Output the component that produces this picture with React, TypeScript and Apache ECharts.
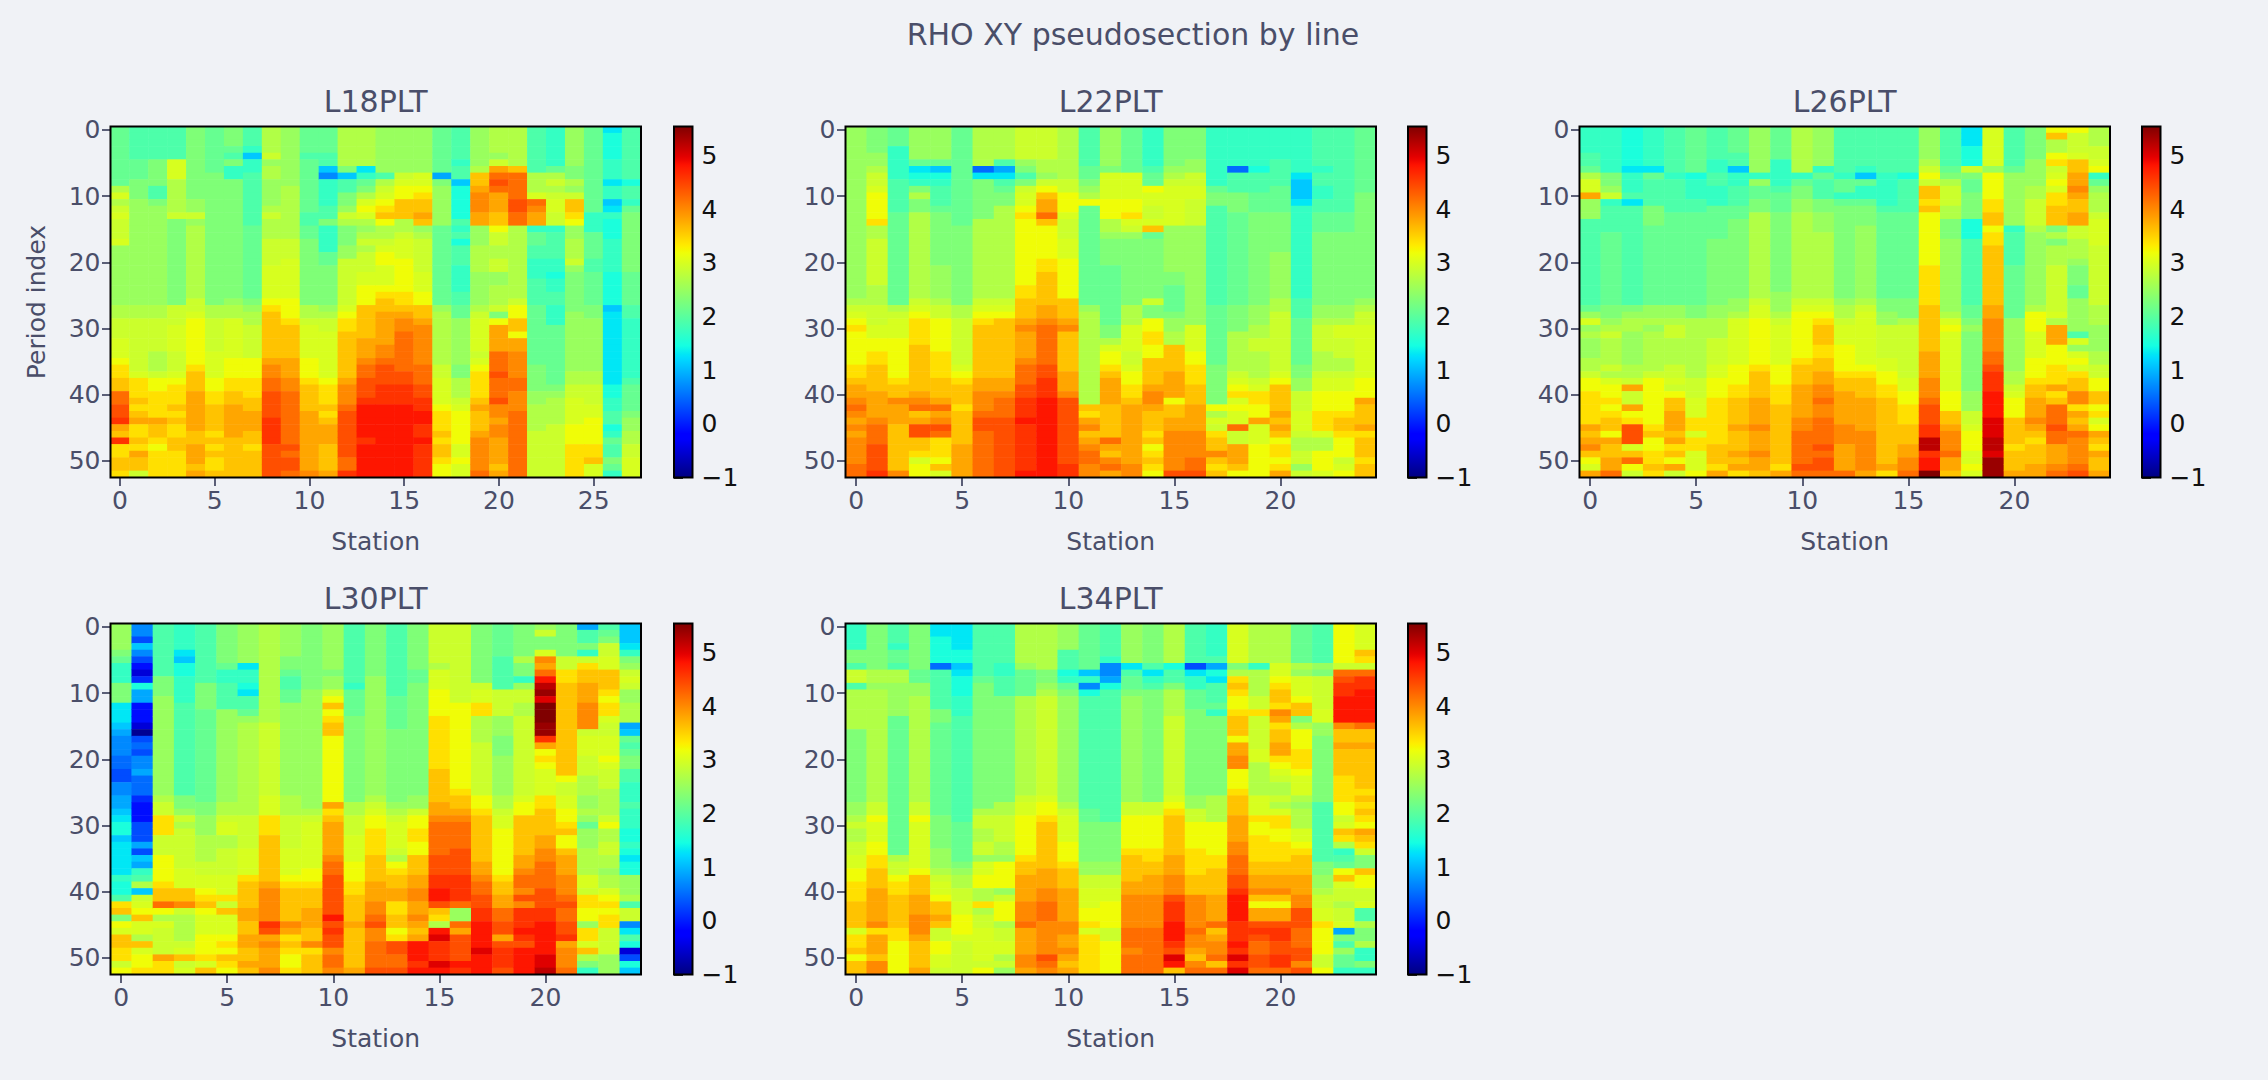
import React, { useEffect, useRef } from "react";
import * as echarts from "echarts";

const SUPTITLE = "RHO XY pseudosection by line";
const ROW_COUNT = 53;
const VALUE_MIN = -1;
const VALUE_MAX = 5.54;
const COLORBAR_TICKS = [-1, 0, 1, 2, 3, 4, 5];

// One string per station, top to bottom; "p9" means value-code p for nine periods.
// Value codes: a = -1.0, then +0.2 per letter (a..z, A..H).
const VALUE_CODES = "abcdefghijklmnopqrstuvwxyzABCDEFGH";

const L18PLT = [
  "p9 s1 u1 s1 t1 u1 t3 u1 r9 s2 t3 u3 v1 w2 x2 A2 B2 C1 y1 x1 C1 w2 x2 w1",
  "o5 p3 q3 r16 s2 t5 t3 u1 w3 x1 w1 x1 y1 w2 x1 w1 y1 x2 t1",
  "o5 q4 o2 q1 r15 s2 t5 s3 t1 v2 w4 y1 x2 w1 v1 w4",
  "o5 u3 s5 t1 q13 t3 u4 t3 u1 v1 w3 x1 w1 x1 w2 x2 w4",
  "q11 r2 t1 r1 s11 t2 u1 v7 w1 x3 y6 x2 y3 x1 y1",
  "p7 q20 s2 t5 u4 v2 w2 x4 w1 x1 w1 x1 w2 x1",
  "q3 p1 o1 q1 n2 q18 r1 s2 u6 v3 w2 x2 y5 x6",
  "o3 n1 k1 n2 o8 p11 q1 r1 s2 t5 v3 w3 x2 y3 x2 w1 x4",
  "s4 t1 r1 s2 r4 s1 t1 s3 t4 u5 v1 w1 x7 y1 z2 A2 B4 C4 B5",
  "r9 s8 t3 u6 v3 w1 x5 y3 z2 A8 B1 A1 B2 A1",
  "p4 o1 p8 o2 p2 q10 s2 t1 u5 v3 w1 x4 y9 z1",
  "p4 o2 k1 i1 n4 o2 q1 n4 p2 q6 r1 s1 t2 u7 v1 w3 x1 w1 x1 y3 x4 y1",
  "s6 q1 k1 o2 q2 r1 t1 s1 q3 r2 t7 u1 v1 w2 x7 y1 z3 A1 B7 A2 C1",
  "s6 l1 n1 p1 q1 s1 u1 v1 u1 s1 r1 s1 t1 s1 t3 u2 v3 x5 y3 z1 A2 B3 C1 D5 C1 D5",
  "r7 o1 s1 t1 u1 v1 w1 x1 v1 s2 t1 u1 v2 u3 v1 w1 x2 y5 z2 A1 B3 C3 D11",
  "r7 t1 u1 v2 x3 s2 t1 u3 v5 w2 x1 y1 z2 A6 B2 C3 D11",
  "r7 u2 v1 w1 x2 y1 x1 r1 s1 t5 u3 v2 x2 y1 z6 A3 B2 C2 D2 C2 D1 C5",
  "p7 j1 q1 r6 p12 r1 s8 t2 u4 v1 w3 x1 w1 x2 w1 v2",
  "o5 n1 o2 k1 m5 o1 n1 o1 m1 o3 n4 o2 p2 r7 q2 s3 t1 u1 v5 u2 v1 u2",
  "r6 s1 x2 y1 z3 y2 r3 s4 r5 s1 t1 u5 t1 u1 v1 w4 x1 y1 x3 y1 z5 A1",
  "s4 r1 t1 y1 A1 B1 A1 y3 x2 v1 t2 s2 t2 r2 s3 t1 q1 v1 y4 A3 B1 A3 B1 z2 y1 z2 y1 y3 x1 y1",
  "s6 x1 A4 B2 A2 s11 t1 v2 x2 v1 y2 z4 A2 z3 A10",
  "o7 s3 u1 A1 z1 y2 n1 p2 o2 n3 o4 p9 q4 r2 s4 t7",
  "n6 p1 s1 t1 s1 t1 u2 t2 n1 o4 n2 m1 n2 o2 n3 p9 q1 r1 s4 t8",
  "r6 q2 s1 r1 t1 x2 w1 v1 r2 s3 t1 r1 q6 r9 s2 t2 u4 v3 w5",
  "p13 n3 p4 o2 p5 q2 r8 s2 t3 u2 v4 w2 x1 u2",
  "l1 m4 n3 l1 n2 k1 l1 n1 m3 n5 m5 k1 l11 m2 n2 o2 m1 n1 p1 o2 q1 p1 n1",
  "o8 m1 o2 n1 p1 q9 p5 o2 n9 o1 p4 q1 r2 s2 t2 u3",
];

const L22PLT = [
  "r26 s1 t1 u1 v1 w1 v4 v1 w2 x1 y2 z1 A1 z1 y1 z1 y1 z4 A2",
  "q4 r2 s1 t2 u1 v4 w1 s2 t7 s3 t3 u2 v2 w2 x4 y4 z1 A3 B4 C1",
  "p3 n5 o5 p14 s1 t1 u3 v6 w1 x2 z1 y3 x7 z1",
  "r5 p1 l1 m1 n1 q1 s1 q2 s13 t1 u1 v1 w4 x5 x2 y1 z1 A1 x1 y1 B2 x2 w1 u1 v2",
  "r5 p1 k1 m1 n1 o3 p1 q8 r5 s1 t2 v5 w4 x3 y1 A1 y1 z1 B1 A1 w3 v1 x1 u1",
  "p15 q12 s2 t7 u1 v1 w1 x3 w1 x5 y5",
  "s6 h1 l1 q6 s12 t1 u1 v1 w1 x8 y2 z3 A1 B2 A7",
  "s5 o1 j1 l1 o1 p1 q2 s14 t1 u1 v1 x9 y2 z1 A3 B9",
  "t5 r1 q1 o1 q1 t1 u2 v1 w1 v10 w2 x3 y1 z1 y4 z1 A3 B2 C3 D1 C7 D1",
  "t5 s2 r1 t1 v1 x1 y2 A1 x1 v5 w2 x5 y2 z1 A6 B2 C3 D14",
  "s8 t2 v3 u1 t3 u3 v6 x3 y1 z1 x6 y3 z1 B10 C2",
  "o6 p2 q1 r1 s1 v1 p15 r1 s14 x1 w1 y1 z1 x1 y1 z1 A2 z2",
  "r6 q1 u4 v3 s2 r1 q4 p9 q2 s1 u1 v2 w1 x1 y4 x5 A1 y1 x1 z1 A1 y1",
  "p7 u4 v2 w1 u1 t1 r1 q10 s3 u4 t2 u1 v2 w2 x1 y9 z2",
  "n6 o1 p2 v1 u2 t2 u1 x1 p1 q9 t1 q2 v2 w2 v2 x4 y1 z2 y1 x3 w1 x1 v1 w1 x1 w1 v1",
  "q6 r1 s1 t1 u6 r7 q2 p4 q1 r2 s2 x4 y4 v1 x2 y2 z6 B1",
  "q5 r2 t2 u2 t4 r15 u4 v2 w3 x3 y4 z4 A2 B1",
  "n9 p1 q2 o15 p9 q6 v1 s1 u1 t1 w1 x2 z1 x1 w1 x1",
  "n6 h1 o3 q3 p14 q4 s6 t1 u1 v1 w1 u1 v1 u2 A1 t2 y3 x1 v1",
  "n6 m1 o3 p3 q14 r3 s2 t2 s4 t1 u1 w2 v2 y1 u3 v5",
  "n5 o4 p4 q6 r7 s2 t9 u1 v1 x4 y1 x1 y1 x1 v1 w2 v1 w1 y1",
  "n7 l1 k3 l1 n14 o3 p7 q2 r2 t3 u3 t1 s2 t2 r1 t1",
  "o6 n1 o2 n2 o2 p3 q11 r2 s1 t4 s3 t1 u2 v3 w3 u1 s2 v3 u1",
  "o13 p3 q11 r2 s1 u2 t3 s2 t1 u2 v3 w1 x2 w1 v3 t1 u1 v1",
  "p10 q16 r1 s1 t2 u8 v3 y1 x3 y1 w1 x3 w1 x2",
];

const L26PLT = [
  "n4 o2 p1 s1 u2 y1 r3 o13 p1 r1 u1 r1 s1 r3 s2 t1 v2 w5 y1 x1 y1 z1 x1 v1 u1 y1",
  "n7 q2 r1 t1 n1 o4 p11 q2 r1 s1 t1 s4 t1 s1 u1 v2 w1 v1 w1 x2 v1 y1 x2 y2 A1",
  "m6 l1 n3 o1 l1 o15 q1 r1 s2 r5 s2 t1 y1 t2 y1 v1 w1 B3 u1 x1 A1 v1 t1",
  "n6 l1 p1 o4 q3 p12 r2 s1 r1 s6 t1 v7 w1 x1 v2 w2 x1 w1",
  "o7 n1 o5 p14 r2 s1 t2 s4 t2 u1 t1 v1 x2 y3 x1 y1 w1 x1 v1 y1 t1",
  "p7 m1 n3 o2 p14 q2 s9 t3 u3 w2 u1 w2 u3 v1",
  "o5 n2 o2 n3 p5 q10 r2 s3 t4 u2 v3 w7 x3 w1 y1",
  "p4 o2 k1 n2 o3 p2 q12 r2 s1 u7 v3 w2 x4 y1 x3 y1 x1 y1 w1",
  "r7 n1 r1 p2 q2 s13 t1 u2 v7 w1 x4 y4 z1 y3 z1 y2 x1",
  "p5 n4 o1 p3 q12 r3 s1 t1 u6 v3 w3 x9 w1 y1",
  "s7 n1 p1 q2 r2 s13 t1 u1 v7 w1 x3 y5 z2 A5 B1 A1",
  "r6 n1 p1 o3 q2 r3 s10 t1 u1 v1 w1 x3 w2 x2 y2 z2 A1 z2 A4 B1 A1 B2 A1",
  "o7 n1 p2 n1 p1 q14 r1 s2 t1 u3 v4 w1 x2 y5 z3 y4 A1",
  "o6 n1 k1 p1 n2 p1 q3 r11 s1 t1 u8 v1 w1 x3 y5 z6 y1",
  "o7 n5 o1 p13 q2 r2 t5 u2 v2 w2 x10 y1 w1",
  "o7 m1 o5 p13 q3 s1 t8 u2 v2 w3 x3 y2 z2 A1",
  "r5 s1 t1 v1 t1 x2 w1 x1 v8 w6 x7 y4 z3 A1 B3 C2 F2 C1 D2 H1",
  "o6 p1 q1 s1 t3 s2 q3 r11 s1 u1 v1 u9 v3 x2 y1 z3 A1 y2 x1",
  "l3 m3 t1 q1 p2 q4 m3 o10 p2 q1 r1 q9 r3 t2 u1 v3 u2 v1 u1",
  "u6 r1 v4 w2 x2 v1 w2 x9 y2 z5 A2 B1 C3 D4 E3 F2 E1 G3",
  "o6 p1 r8 n1 o5 p8 r8 s2 t1 u1 v3 x4 w1 x3 y1",
  "q5 r4 s2 t4 s1 r11 s1 v3 u4 v3 w1 x2 y3 z1 y1 x1 w1 x3 y1",
  "v1 x1 s2 v1 w1 t1 u1 v1 u1 w2 x3 q1 s1 q1 s3 t7 u1 s1 y3 v3 w3 y1 w1 x1 A3 B1 A2 y3 z1 A1",
  "v1 t3 u1 x2 y2 z1 y1 x2 y2 t2 s3 r1 q3 p2 r5 o1 u1 r1 u1 v1 u1 w1 x2 z2 w1 y1 x1 y1 A1 z4 A1 B1",
  "s3 t2 u1 v1 n1 p1 r1 s3 t1 u4 t9 s3 r4 s2 t2 v2 x2 v1 w1 u1 v1 y1 x1 w1 y1 x2 y1",
];

const L30PLT = [
  "r4 q1 p1 n3 q3 l3 k1 j1 i3 h2 g2 i2 j2 k1 l1 m2 k1 l5 n1 m2 o1 w1 x1 q1 v1 u1 x2 w2 t1 v1",
  "i2 g1 k1 i1 g1 e1 c1 f1 m1 j2 e3 c1 a1 g1 h1 g1 i2 j1 h3 f1 e3 g3 j1 g1 k1 j1 n1 o1 s1 k1 t1 u1 v1 x1 u2 s1 x1 u1 v2 w1",
  "o8 q3 r15 s1 t2 w3 t3 v4 w1 x2 A1 v1 s1 u1 t4 y1 w2",
  "n4 l1 k1 m2 n4 o14 q2 r1 t1 s1 t6 u3 x2 z1 t1 s4 t1 u1 x1 t1 u1",
  "o9 q4 p14 q2 r3 s4 t2 u2 v1 w1 x1 v1 u3 v3 w1 u1 x1",
  "q6 p1 n2 o4 r14 s2 t1 u2 s2 t4 u3 w1 t1 x1 u3 v1 w1 v1 x1 w1 v1",
  "r6 l1 n2 m1 l1 o2 p1 r1 s14 t5 u4 w1 x4 y2 x2 y2 x2 y1 x1",
  "s15 t11 u3 w3 x7 y1 z5 C1 B1 y1 z1 y3 z1",
  "r5 q2 p1 o2 p2 r14 s3 t5 u4 v1 w1 x5 z1 y1 w1 x1 w1 v2 w1",
  "q10 r18 s1 t1 u7 v2 w1 x3 y3 x2 z1 w1 x3",
  "r7 q1 r2 t1 v1 x1 v1 w1 x2 v10 y1 w1 x1 y5 z1 A2 B6 D1 B1 C1 B2 z1 A2 z1",
  "o9 n1 p4 q13 s2 t3 u4 v3 w2 x4 y1 x6 y1",
  "q8 r18 s1 t1 u1 v2 w4 x4 y3 z2 A1 B1 z2 A4 B1",
  "o11 p5 q11 r1 s1 t1 u4 t1 s1 v1 w1 x2 y2 w2 x2 v1 w1 B2 A2 B1",
  "q7 p2 q17 r2 t1 v2 w2 v2 x3 y2 z2 y2 z1 y1 x1 y1 D3 C1 D1",
  "t6 s1 u3 v4 w8 x5 y2 z1 A5 B3 C2 D2 B1 x1 w1 s1 D1 E1 C3 E1 D1",
  "t12 v13 w1 x2 y1 z1 A4 B4 C4 A1 r2 A1 y1 B4 D1 C1",
  "q9 t1 u2 w2 s4 t8 v2 w1 x7 y2 z1 A2 B2 C2 D4 E1 D3",
  "p5 o5 t4 r3 q3 r6 s2 t1 u2 v7 w1 x2 y2 A2 B2 y1 B1 C3 B1",
  "q5 s1 q2 n1 r1 t2 s2 t12 u1 v2 x6 y2 z1 A2 z1 B1 z1 C3 D1 C1 B1 D4",
  "r1 t1 q2 u1 z1 y1 A1 D1 F1 G1 E1 H3 G2 C1 y1 v1 w1 v1 u4 w2 x4 y2 z2 A4 B3 C2 D5 E2 F1",
  "q5 t2 w2 x14 v1 t2 u2 v2 w1 x1 v2 x1 y3 z3 A1 B1 A2 B2 C1 y1 z3 A1",
  "j1 o2 q1 n1 t1 w1 x2 y3 z4 t1 u3 t3 s3 r2 s1 r1 p1 r3 s4 u2 t1 w2 v2 r1 w2 u1 x1 s1 q1 n1",
  "o1 p1 q1 t2 u2 x3 w1 v1 w2 u1 t2 u3 v1 u1 t3 s4 t1 v1 s2 t2 s2 r1 s2 u1 v1 w1 v1 w2 t4 r3",
  "k3 l1 n1 q1 r1 t1 u1 t1 r2 s3 j1 k1 p1 o1 p1 q2 o2 n3 o1 n3 m2 n1 m1 l1 m2 r3 s1 o1 t2 i1 l1 o1 m1 c1 g1 m1 k1",
];

const L34PLT = [
  "n4 q2 o1 t2 o1 s6 q11 r2 s1 t1 s2 t2 u2 v2 w3 x4 u1 w2 x1 v1 x2",
  "q7 s2 r1 s17 t2 v1 u3 v2 w2 x3 y5 z1 w1 y3 x1 z2",
  "o3 n1 p2 o1 s2 r5 p13 p8 s1 t2 v1 w2 x5 w2 v4",
  "q7 p2 r2 s16 t2 v1 u7 v1 x3 y3 z3 y1 x4 y1",
  "l2 m4 h1 o6 q2 p14 q5 r3 s1 t1 u2 v1 x2 y1 x1 t2 v2 u2 t1",
  "l4 m2 k1 l1 m3 n3 o16 p6 q1 r1 s2 t2 u2 v3 u1 t5",
  "o8 p1 q19 s1 t2 s2 t2 r1 u2 v2 s2 w1 s1 t2 u5 t1 v1",
  "o6 n2 o3 q16 s2 t4 s2 r1 v4 r1 t1 v3 s1 t2 u2 s1 t1 r1",
  "s6 r1 p4 s15 t1 u2 v6 w1 x2 y4 z3 A1 y4 z2 y1",
  "s7 q2 r1 s1 t15 u1 v2 w1 x7 y3 z2 A3 z5 B1 A1 z1",
  "r4 o3 m1 n1 p1 q1 r16 s1 t1 u4 v3 w1 x3 y5 z2 y2 z1 y1 x1 y1",
  "p7 k1 n1 i1 m1 o17 p2 q6 r2 t2 u3 v2 w1 u1 w6",
  "o5 n1 i2 j1 m1 o20 q6 r2 t2 u2 v4 t2 v5",
  "r6 l1 o1 p2 q1 r16 t2 v5 w1 x4 y2 z5 A3 z1 A3",
  "q6 o1 l1 n1 o1 q17 t2 v5 w2 x2 y3 z5 A7",
  "s6 m1 o2 q1 s4 t12 u1 v1 w1 x6 y3 z3 B1 C3 D3 C1 B1 E1 D1 x1",
  "o6 g1 l1 n2 p3 q13 r2 t2 v4 w4 x3 z5 A1 z2 y1 x1 z1 A1",
  "n5 o1 j1 m1 l1 o3 p1 n1 q12 s4 v5 w2 x4 y4 A1 x1 y1 z2 A1 x1 A1",
  "u6 q1 s1 w1 x1 w1 v2 w1 x3 v1 y2 z2 v3 w1 x3 y4 z2 A3 B2 C1 D4 C3 D1 C1 E1 C1 E1",
  "s6 n1 s4 t2 w1 t5 u2 s5 u3 w1 v2 w4 x2 y2 z1 x1 v1 y2 B1 C1 B1 A2 B2 A1",
  "s6 u2 v1 w1 x2 w1 z1 y1 w1 x2 y2 w1 v1 u1 t1 s2 t1 s1 u1 w2 v2 w3 x2 y2 z1 x1 v1 y2 B1 C2 B2 C2 A1",
  "p6 s1 r1 u3 v1 x2 q1 s1 v3 w3 v1 u3 s1 r1 s3 u2 v1 w1 x3 y2 y1 z2 B3 A3 B2 z1 B1",
  "o6 r1 q1 t5 u2 r2 q10 o9 q2 r2 s1 t2 u2 w1 v4 t2 v1",
  "v6 t1 A1 B1 C2 D4 z1 x2 y1 x4 w4 v2 t1 u1 x1 w1 s1 n1 o1 p1 v1 x1 u1 t2 s1 t2 u1 j1 q1 o1 r1 p2 n1",
  "u4 x1 w1 t1 A1 C2 D5 A1 x2 y1 x6 w1 x1 w1 x1 w1 v1 y1 x1 w1 t1 q2 x1 v2 t2 u1 o2 s1 q2 s1 n2 q1 n1",
];

const PANEL_TITLES = ["L18PLT", "L22PLT", "L26PLT", "L30PLT", "L34PLT"];
const PANEL_COLUMNS = [L18PLT, L22PLT, L26PLT, L30PLT, L34PLT];

const AXIS_W = 530.5;
const AXIS_H = 351;
const BAR_W = 18.5;
const PANEL_POS = [
  { x: 110.5, y: 126.5, barX: 674 },
  { x: 845.5, y: 126.5, barX: 1408 },
  { x: 1579.5, y: 126.5, barX: 2142 },
  { x: 110.5, y: 623.5, barX: 674 },
  { x: 845.5, y: 623.5, barX: 1408 },
];

const BG = "#f0f2f6";
const INK = "#4a4e69";
const FONT = "DejaVu Sans";

function decodeColumn(text: string): number[] {
  const out: number[] = [];
  text.split(" ").forEach((tok) => {
    const base = VALUE_MIN + 0.2 * VALUE_CODES.indexOf(tok[0]);
    const v = base < 3 ? base + 0.1 : base;
    const n = parseInt(tok.slice(1), 10);
    for (let i = 0; i < n; i++) out.push(v);
  });
  while (out.length < ROW_COUNT) out.push(out[out.length - 1]);
  return out.slice(0, ROW_COUNT);
}

function ramp(t: number, pts: number[][]): number {
  for (let i = 1; i < pts.length; i++) {
    if (t <= pts[i][0]) {
      const [a, b] = [pts[i - 1], pts[i]];
      return a[1] + ((b[1] - a[1]) * (t - a[0])) / (b[0] - a[0]);
    }
  }
  return pts[pts.length - 1][1];
}

function jet(t: number): string {
  const r = ramp(t, [[0, 0], [0.35, 0], [0.66, 1], [0.89, 1], [1, 0.5]]);
  const g = ramp(t, [[0, 0], [0.125, 0], [0.375, 1], [0.64, 1], [0.91, 0], [1, 0]]);
  const b = ramp(t, [[0, 0.5], [0.11, 1], [0.34, 1], [0.65, 0], [1, 0]]);
  return `rgb(${Math.round(r * 255)},${Math.round(g * 255)},${Math.round(b * 255)})`;
}

const JET_SAMPLES = Array.from({ length: 129 }, (_, i) => i / 128);

function buildOption() {
  const grid: any[] = [];
  const xAxis: any[] = [];
  const yAxis: any[] = [];
  const series: any[] = [];
  const title: any[] = [
    {
      text: SUPTITLE,
      left: 1133,
      top: 19.5,
      padding: 0,
      textAlign: "center",
      textStyle: { color: INK, fontFamily: FONT, fontSize: 30, fontWeight: "normal" },
    },
  ];
  const graphic: any[] = [];

  PANEL_COLUMNS.forEach((cols, p) => {
    const pos = PANEL_POS[p];
    grid.push({ left: pos.x, top: pos.y, width: AXIS_W, height: AXIS_H, containLabel: false });
    xAxis.push({
      type: "category",
      gridIndex: p,
      data: cols.map((_, i) => String(i)),
      name: "Station",
      nameLocation: "middle",
      nameGap: 51.5,
      nameTextStyle: { color: INK, fontFamily: FONT, fontSize: 25 },
      axisLine: { show: false },
      axisTick: {
        show: true,
        alignWithLabel: true,
        length: 8.5,
        interval: (i: number) => i % 5 === 0,
        lineStyle: { color: INK, width: 1.8 },
      },
      axisLabel: {
        color: INK,
        fontFamily: FONT,
        fontSize: 25,
        margin: 10,
        interval: (i: number) => i % 5 === 0,
      },
      splitLine: { show: false },
    });
    yAxis.push({
      type: "category",
      gridIndex: p,
      inverse: true,
      data: Array.from({ length: ROW_COUNT }, (_, i) => String(i)),
      name: p === 0 ? "Period index" : "",
      nameLocation: "middle",
      nameGap: 62,
      nameTextStyle: { color: INK, fontFamily: FONT, fontSize: 25 },
      axisLine: { show: false },
      axisTick: {
        show: true,
        alignWithLabel: true,
        length: 8.5,
        interval: (i: number) => i % 10 === 0,
        lineStyle: { color: INK, width: 1.8 },
      },
      axisLabel: {
        color: INK,
        fontFamily: FONT,
        fontSize: 25,
        margin: 10,
        interval: (i: number) => i % 10 === 0,
      },
      splitLine: { show: false },
    });
    const data: number[][] = [];
    cols.forEach((c, x) => decodeColumn(c).forEach((v, y) => data.push([x, y, v])));
    series.push({
      type: "heatmap",
      xAxisIndex: p,
      yAxisIndex: p,
      data,
      silent: true,
      itemStyle: { borderWidth: 0 },
      emphasis: { disabled: true },
    });
    title.push({
      text: PANEL_TITLES[p],
      left: pos.x + AXIS_W / 2,
      top: pos.y - 40.5,
      padding: 0,
      textAlign: "center",
      textStyle: { color: INK, fontFamily: FONT, fontSize: 30, fontWeight: "normal" },
    });
    graphic.push({
      type: "rect",
      z: 100,
      silent: true,
      shape: { x: pos.x, y: pos.y, width: AXIS_W, height: AXIS_H },
      style: { fill: "none", stroke: "#000", lineWidth: 2 },
    });
  });

  const barStops = JET_SAMPLES.map((t) => ({ offset: t, color: jet(t) }));
  PANEL_COLUMNS.forEach((_, p) => {
    const pos = PANEL_POS[p];
    const g = PANEL_COLUMNS.length + p;
    grid.push({ left: pos.barX, top: pos.y, width: BAR_W, height: AXIS_H, containLabel: false });
    xAxis.push({ type: "value", gridIndex: g, min: 0, max: 1, show: false });
    yAxis.push({
      type: "value",
      gridIndex: g,
      min: VALUE_MIN,
      max: VALUE_MAX,
      position: "right",
      axisLine: { show: false },
      splitLine: { show: false },
      axisTick: {
        show: true,
        length: 9,
        customValues: COLORBAR_TICKS,
        lineStyle: { color: "#111", width: 1.8 },
      },
      axisLabel: {
        color: "#111",
        fontFamily: FONT,
        fontSize: 25,
        margin: 9,
        align: "left",
        customValues: COLORBAR_TICKS,
        formatter: (v: number) => String(v).replace("-", "\u2212"),
      },
    });
    series.push({
      type: "custom",
      xAxisIndex: g,
      yAxisIndex: g,
      silent: true,
      data: [[0, VALUE_MIN]],
      renderItem: (_p: any, api: any) => {
        const a = api.coord([0, VALUE_MIN]);
        const b = api.coord([1, VALUE_MAX]);
        return {
          type: "rect",
          shape: { x: a[0], y: b[1], width: b[0] - a[0], height: a[1] - b[1] },
          style: { fill: new echarts.graphic.LinearGradient(0, 1, 0, 0, barStops) },
        };
      },
    });
    graphic.push({
      type: "rect",
      z: 100,
      silent: true,
      shape: { x: pos.barX, y: pos.y, width: BAR_W, height: AXIS_H },
      style: { fill: "none", stroke: "#000", lineWidth: 2 },
    });
  });

  return {
    animation: false,
    backgroundColor: BG,
    title,
    grid,
    xAxis,
    yAxis,
    series,
    graphic,
    visualMap: {
      show: false,
      type: "continuous",
      min: VALUE_MIN,
      max: VALUE_MAX,
      dimension: 2,
      seriesIndex: PANEL_COLUMNS.map((_, i) => i),
      inRange: { color: JET_SAMPLES.map(jet) },
    },
  };
}

export default function App() {
  const ref = useRef<HTMLDivElement>(null);
  useEffect(() => {
    const chart = echarts.init(ref.current!, undefined, { renderer: "svg" });
    chart.setOption(buildOption() as any);
    return () => chart.dispose();
  }, []);
  return (
    <div
      ref={ref}
      style={{ position: "fixed", left: 0, top: 0, width: 2268, height: 1080, background: BG }}
    />
  );
}
